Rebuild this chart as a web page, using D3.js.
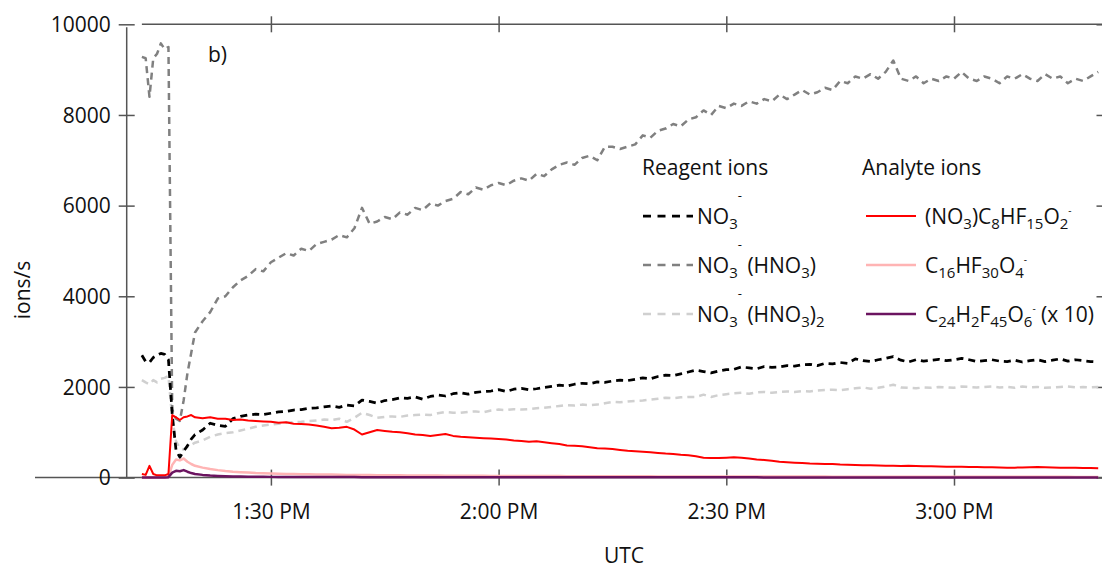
<!DOCTYPE html>
<html><head><meta charset="utf-8">
<script src="https://cdn.jsdelivr.net/npm/d3@7"></script>
<style>
html,body{margin:0;padding:0;background:#fff;}
svg{display:block;font-family:"Segoe UI","Open Sans",sans-serif;}
</style></head>
<body><svg id="chart" width="1102" height="568"></svg>
<script>
// ---- DATA (minutes after 13:00 UTC) ----
const earlyMinutes = [13,13.5,14,14.5,15,15.5,16,16.5,17,17.5,18,18.5,19,19.5,20];
const laterMinutes = d3.range(21, 140);
const minutes = earlyMinutes.concat(laterMinutes);

const xTickLabels = ["1:30 PM","2:00 PM","2:30 PM","3:00 PM"];
const xTickMinutes = [30, 60, 90, 120];
const yTicks = [0, 2000, 4000, 6000, 8000, 10000];

// NO3- (black dashed)
const no3 = [
 2700,2560,2540,2650,2700,2740,2720,2600,1400,600,450,580,700,850,950,
 1050,1200,1150,1130,1300,1350,1380,1400,1390,1420,
 1450,1460,1490,1500,1530,1540,1560,1580,1550,1600,
 1580,1710,1680,1640,1700,1720,1760,1750,1780,1730,
 1790,1820,1800,1850,1870,1840,1880,1900,1910,1940,
 1900,1950,1970,1940,1960,1990,2010,2040,2020,2060,
 2080,2070,2110,2100,2130,2150,2140,2170,2200,2180,
 2230,2260,2250,2290,2330,2370,2340,2310,2350,2380,
 2390,2440,2420,2400,2450,2430,2440,2470,2460,2490,
 2500,2470,2520,2510,2540,2520,2620,2580,2560,2600,
 2630,2670,2590,2550,2600,2570,2590,2610,2580,2600,
 2630,2600,2560,2580,2600,2570,2560,2590,2550,2580,
 2600,2560,2590,2620,2570,2600,2580,2560,2550];
// NO3-(HNO3) (grey dashed)
const no3hno3 = [
 9280,9250,8400,9250,9350,9580,9450,9500,1500,1300,1250,1700,2300,2750,3200,
 3450,3650,3950,4000,4200,4350,4450,4600,4550,4750,
 4850,4950,4900,5050,5000,5150,5200,5250,5350,5300,
 5500,5950,5600,5650,5750,5700,5850,5800,5950,5900,
 6050,6000,6100,6150,6300,6250,6400,6350,6450,6500,
 6450,6550,6600,6550,6700,6650,6800,6900,6950,6900,
 7050,7100,7000,7300,7300,7250,7300,7350,7550,7500,
 7650,7700,7800,7750,7900,7950,8100,8000,8200,8150,
 8250,8200,8300,8250,8350,8300,8450,8350,8450,8550,
 8450,8500,8600,8550,8750,8700,8850,8800,8900,8800,
 8950,9200,8800,8750,8850,8700,8800,8750,8850,8800,
 8950,8800,8750,8850,8800,8700,8850,8800,8900,8800,
 8750,8900,8800,8850,8700,8800,8750,8850,8950];
// NO3-(HNO3)2 (light grey dashed)
const no3hno3_2 = [
 2150,2100,2060,2150,2100,2180,2200,2240,1300,800,650,620,680,720,770,
 820,900,950,980,1000,1040,1080,1120,1150,1170,
 1190,1210,1220,1230,1250,1260,1280,1270,1300,1230,
 1320,1430,1380,1320,1340,1350,1340,1370,1380,1390,
 1380,1420,1450,1430,1430,1450,1460,1440,1480,1500,
 1490,1510,1500,1510,1530,1540,1560,1580,1600,1590,
 1610,1600,1610,1640,1670,1660,1680,1690,1700,1720,
 1740,1760,1750,1770,1780,1780,1830,1780,1820,1840,
 1860,1870,1850,1880,1890,1870,1890,1900,1890,1910,
 1900,1920,1930,1940,1930,1950,1970,1990,1960,1980,
 2010,2050,1990,1980,1970,1990,1980,2000,1990,1980,
 2010,2000,1990,2000,2010,1990,2000,1980,2010,1990,
 2000,1980,1990,2000,2010,1990,2000,1990,2000];
// (NO3)C8HF15O2- (red)
const pfoa = [
 80,60,260,80,50,50,50,80,1380,1330,1270,1330,1350,1380,1330,
 1310,1330,1300,1300,1270,1280,1260,1250,1240,1230,
 1210,1220,1190,1180,1170,1150,1120,1090,1100,1120,
 1060,950,1000,1050,1030,1010,1000,980,950,940,
 920,940,960,920,900,890,880,870,860,850,
 840,820,810,790,800,780,760,740,710,700,
 690,670,650,640,630,610,590,580,570,560,
 545,530,520,505,495,470,440,430,430,440,
 450,440,420,400,390,370,350,340,330,320,
 310,305,300,300,290,285,280,275,270,265,
 260,260,255,260,255,250,250,245,240,240,
 240,235,235,230,230,225,220,220,225,230,
 235,230,225,220,215,215,210,210,205];
// C16HF30O4- (pink)
const dimer = [
 0,0,0,0,0,0,0,20,280,400,380,420,350,300,260,
 220,190,165,145,130,120,110,100,95,90,
 85,82,78,75,72,70,68,66,63,60,
 58,57,56,54,52,51,50,48,47,46,
 45,44,43,42,41,40,40,39,38,37,
 37,36,35,35,34,34,33,33,32,32,
 31,31,30,30,30,29,29,28,28,28,
 27,27,27,26,26,26,25,25,25,25,
 24,24,24,24,23,23,23,23,22,22,
 22,22,22,21,21,21,21,21,20,20,
 20,20,20,20,19,19,19,19,19,19,
 19,18,18,18,18,18,18,18,17,17,
 17,17,17,17,17,16,16,16,16];
// C24H2F45O6- x10 (purple)
const trimer = [
 0,0,0,0,0,0,0,10,110,150,140,165,130,100,80,
 60,45,36,30,26,22,20,18,17,16,
 15,14,14,13,13,12,12,12,11,11,
 11,10,10,10,10,9,9,9,9,9,
 8,8,8,8,8,8,8,7,7,7,
 7,7,7,7,7,6,6,6,6,6,
 6,6,6,6,6,6,5,5,5,5,
 5,5,5,5,5,5,5,5,5,5,
 5,5,5,5,4,4,4,4,4,4,
 4,4,4,4,4,4,4,4,4,4,
 4,4,4,4,3,3,3,3,3,3,
 3,3,3,3,3,3,3,3,3,3,
 3,3,3,3,3,3,3,3,3];

// ---- LAYOUT ----
const plotLeft = 126.7, plotRight = 1102, plotTop = 24.3, plotBottom = 477.6;
const svg = d3.select("#chart");
const toDate = m => new Date(2020, 0, 1, 13, 0, m * 60);

const x = d3.scaleTime().domain([toDate(11), toDate(139.5)]).range([plotLeft, plotRight]);
const y = d3.scaleLinear().domain([0, 10000]).range([plotBottom, plotTop]);

const axisColor = "#555";
const fontSize = 21;
const textColor = "#111";

// bottom axis line (extends left)
svg.append("line").attr("x1", 35).attr("x2", plotRight).attr("y1", y(0)).attr("y2", y(0))
  .attr("stroke", axisColor).attr("stroke-width", 1.5);
// top axis line
svg.append("line").attr("x1", x(toDate(minutes[0]))).attr("x2", plotRight).attr("y1", y(10000)).attr("y2", y(10000))
  .attr("stroke", axisColor).attr("stroke-width", 1.5);
// left axis line
svg.append("line").attr("x1", plotLeft).attr("x2", plotLeft).attr("y1", y(10000) + 3).attr("y2", y(0))
  .attr("stroke", axisColor).attr("stroke-width", 1.5);

const tickDates = xTickMinutes.map(toDate);
function styleAxis(g) {
  g.select(".domain").remove();
  g.selectAll(".tick line").attr("stroke", axisColor).attr("stroke-width", 1.5);
  g.selectAll(".tick text").attr("fill", textColor).attr("font-size", fontSize)
    .attr("font-family", "'Segoe UI','Open Sans',sans-serif");
}
// bottom x axis
const xb = svg.append("g").attr("transform", `translate(0,${y(0)})`)
  .call(d3.axisBottom(x).tickValues(tickDates).tickFormat((d, i) => xTickLabels[i]).tickSize(8).tickPadding(18));
styleAxis(xb);
xb.selectAll(".tick line").attr("y1", -8).attr("y2", 8);
// top x axis
const xt = svg.append("g").attr("transform", `translate(0,${y(10000)})`)
  .call(d3.axisTop(x).tickValues(tickDates).tickFormat("").tickSize(8));
styleAxis(xt);
xt.selectAll(".tick line").attr("y1", -8).attr("y2", 8);
// left y axis
const yl = svg.append("g").attr("transform", `translate(${plotLeft},0)`)
  .call(d3.axisLeft(y).tickValues(yTicks).tickFormat(d3.format("d")).tickSize(8).tickPadding(8));
styleAxis(yl);
yl.selectAll(".tick line").attr("x1", -8).attr("x2", 8);
yl.selectAll(".tick text").attr("dy", "0.35em");
// right y axis (mostly outside view)
const yr = svg.append("g").attr("transform", `translate(${plotRight + 1.5},0)`)
  .call(d3.axisRight(y).tickValues(yTicks).tickFormat("").tickSize(8));
styleAxis(yr);
yr.selectAll(".tick line").attr("x1", -7).attr("x2", 7);

// ---- LINES ----
const line = d3.line().x((d, i) => x(toDate(minutes[i]))).y(d => y(d));
const series = [
  {data: no3hno3_2, color: "#d0d0d0", width: 2.5, dash: "7,5"},
  {data: no3hno3, color: "#808080", width: 2.5, dash: "7,5"},
  {data: no3, color: "#000000", width: 2.75, dash: "7,5"},
  {data: dimer, color: "#ffb4b4", width: 2.5, dash: null},
  {data: pfoa, color: "#ff0000", width: 2, dash: null},
  {data: trimer, color: "#6b1460", width: 2.5, dash: null}
];
series.forEach(s => {
  svg.append("path").datum(s.data.slice(0, minutes.length)).attr("d", line)
    .attr("fill", "none").attr("stroke", s.color).attr("stroke-width", s.width)
    .attr("stroke-dasharray", s.dash).attr("stroke-linejoin", "round");
});

// ---- TEXT ----
svg.append("text").attr("x", 208).attr("y", 62).attr("font-size", fontSize).attr("fill", textColor).text("b)");
svg.append("text").attr("transform", "translate(30,290) rotate(-90)").attr("text-anchor", "middle")
  .attr("font-size", fontSize).attr("fill", textColor).text("ions/s");
svg.append("text").attr("x", 624).attr("y", 563).attr("text-anchor", "middle")
  .attr("font-size", fontSize).attr("fill", textColor).text("UTC");

// ---- LEGEND ----
function rich(x0, yb, parts) {
  const t = svg.append("text").attr("x", x0).attr("y", yb).attr("font-size", fontSize).attr("fill", textColor);
  let cur = 0;
  parts.forEach(p => {
    const shift = p[1] === "sub" ? 5 : p[1] === "sup" ? -24 : p[1] === "supS" ? -10 : 0;
    const size = p[1] === "sub" ? 15 : p[1] === "sup" ? 13 : p[1] === "supS" ? 10 : fontSize;
    t.append("tspan").attr("dy", shift - cur).attr("font-size", size).text(p[0]);
    cur = shift;
  });
}
svg.append("text").attr("x", 642).attr("y", 175).attr("font-size", fontSize).attr("fill", textColor).text("Reagent ions");
svg.append("text").attr("x", 862).attr("y", 175).attr("font-size", fontSize).attr("fill", textColor).text("Analyte ions");

const legendRows = [224, 273, 322];
const reagentLabels = [
  [["NO"],["3","sub"],["-","sup"]],
  [["NO"],["3","sub"],["-","sup"],[" (HNO"],["3","sub"],[")"]],
  [["NO"],["3","sub"],["-","sup"],[" (HNO"],["3","sub"],[")"],["2","sub"]]
];
const analyteLabels = [
  [["(NO"],["3","sub"],[")C"],["8","sub"],["HF"],["15","sub"],["O"],["2","sub"],["-","supS"]],
  [["C"],["16","sub"],["HF"],["30","sub"],["O"],["4","sub"],["-","supS"]],
  [["C"],["24","sub"],["H"],["2","sub"],["F"],["45","sub"],["O"],["6","sub"],["-","supS"],[" (x 10)"]]
];
const reagentStyles = [series[2], series[1], series[0]];
const analyteStyles = [series[4], series[3], series[5]];
legendRows.forEach((yb, i) => {
  const ly = yb - 8;
  const rs = reagentStyles[i];
  svg.append("line").attr("x1", 643).attr("x2", 693).attr("y1", ly).attr("y2", ly)
    .attr("stroke", rs.color).attr("stroke-width", rs.width).attr("stroke-dasharray", "8,6.5");
  rich(697, yb, reagentLabels[i]);
  const as = analyteStyles[i];
  svg.append("line").attr("x1", 866).attr("x2", 916).attr("y1", ly).attr("y2", ly)
    .attr("stroke", as.color).attr("stroke-width", as.width);
  rich(925, yb, analyteLabels[i]);
});
</script></body></html>
